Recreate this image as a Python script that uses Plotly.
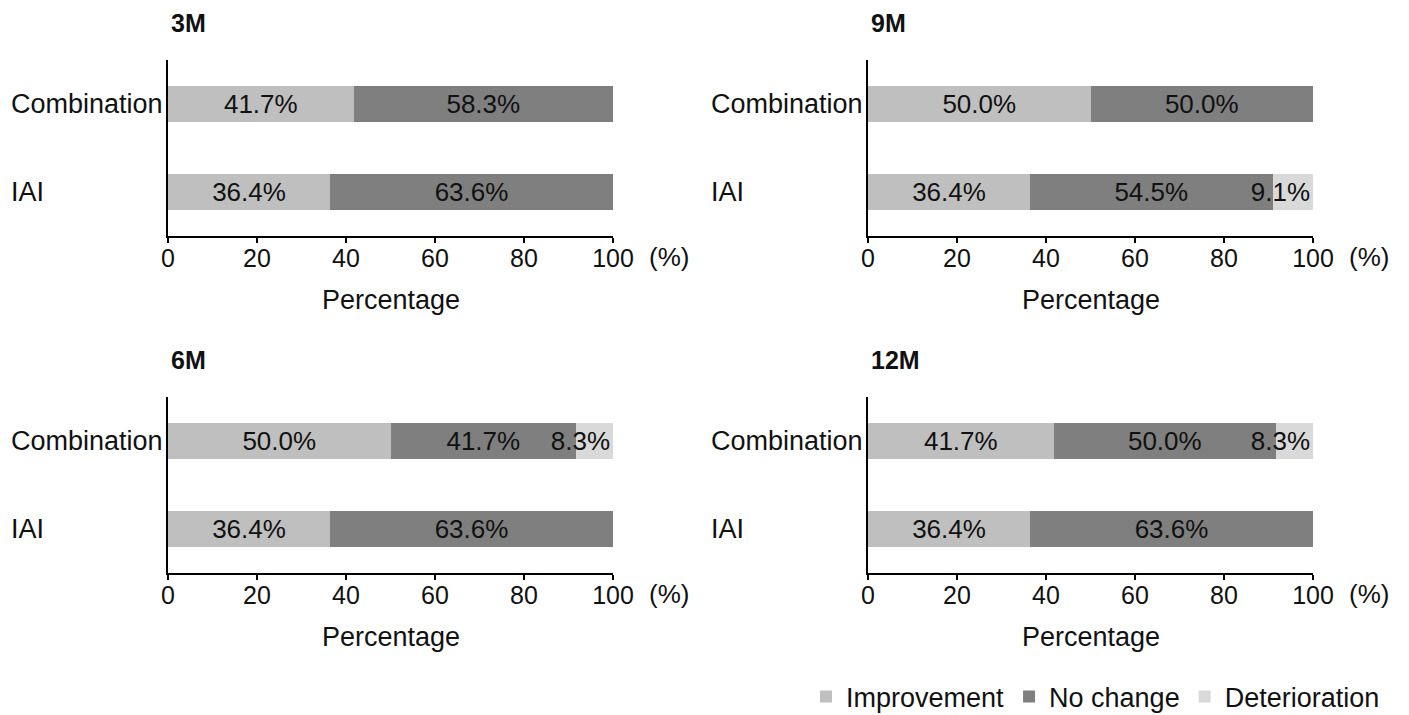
import plotly.graph_objects as go

# ---- data ----
groups = ["IAI", "Combination"]
panels = ["3M", "9M", "6M", "12M"]
improvement = {"3M": [36.4, 41.7], "9M": [36.4, 50.0], "6M": [36.4, 50.0], "12M": [36.4, 41.7]}
no_change = {"3M": [63.6, 58.3], "9M": [54.5, 50.0], "6M": [63.6, 41.7], "12M": [63.6, 50.0]}
deterioration = {"3M": [0.0, 0.0], "9M": [9.1, 0.0], "6M": [0.0, 8.3], "12M": [0.0, 8.3]}
series_names = ["Improvement", "No change", "Deterioration"]
colors = ["#bfbfbf", "#7f7f7f", "#d9d9d9"]
xticks = [0, 20, 40, 60, 80, 100]

W, H = 1409, 715
FONT = "Liberation Sans, Arial, sans-serif"
TXT = "#111111"

# panel geometry (pixels)
xdoms = {"L": (168, 613), "R": (868, 1313)}
ydoms = {"T": (236, 60), "B": (573, 397)}
layout_pos = {"3M": ("L", "T"), "9M": ("R", "T"), "6M": ("L", "B"), "12M": ("R", "B")}
anchors = ["middle", "middle", "end"]

fig = go.Figure()
annotations = []

for i, p in enumerate(panels):
    ax = "" if i == 0 else str(i + 1)
    xa, ya = "x" + ax, "y" + ax
    cx, cy = layout_pos[p]
    x0, x1 = xdoms[cx]
    yb, yt = ydoms[cy]
    for s, (name, col, vals) in enumerate(zip(series_names, colors,
                                            [improvement[p], no_change[p], deterioration[p]])):
        fig.add_trace(go.Bar(
            y=groups, x=vals, orientation="h", name=name,
            marker=dict(color=col, line=dict(width=0)),
            width=0.4,
            text=[f"{v:.1f}%" if v > 0 else "" for v in vals],
            textposition="inside", insidetextanchor=anchors[s],
            constraintext="none", textangle=0, cliponaxis=False,
            textfont=dict(family=FONT, size=26, color=TXT),
            xaxis=xa, yaxis=ya, showlegend=(i == 0), legendgroup=name,
            hoverinfo="skip",
        ))
    fig.layout["xaxis" + ax] = dict(
        domain=[x0 / W, x1 / W], anchor=ya, range=[0, 100],
        tickvals=xticks, ticktext=[str(t) for t in xticks],
        showline=True, linecolor="black", linewidth=2,
        ticks="outside", ticklen=5, tickwidth=1.5, tickcolor="black",
        ticklabelstandoff=-6,
        showgrid=False, zeroline=False, automargin=False, fixedrange=True,
        tickfont=dict(family=FONT, size=25, color=TXT),
    )
    fig.layout["yaxis" + ax] = dict(
        domain=[1 - yb / H, 1 - yt / H], anchor=xa, range=[-0.5, 1.5],
        type="category", categoryorder="array", categoryarray=groups,
        showline=True, linecolor="black", linewidth=2, automargin=False,
        showticklabels=False, ticks="", showgrid=False, zeroline=False,
        fixedrange=True,
    )
    # category labels (left aligned)
    for g in groups:
        annotations.append(dict(
            text=g, xref="paper", x=(x0 - 159) / W, xanchor="left",
            yref=ya, y=g, yanchor="middle", showarrow=False,
            font=dict(family=FONT, size=27, color=TXT),
        ))
    # panel title
    annotations.append(dict(
        text=f"<b>{p}</b>", xref="paper", x=(x0 + 1) / W, xanchor="left",
        yref="paper", y=1 - (yt - 37) / H, yanchor="middle", showarrow=False,
        font=dict(family=FONT, size=25, color=TXT),
    ))
    # axis title
    annotations.append(dict(
        text="Percentage", xref=xa + " domain", x=0.5, xanchor="center",
        yref="paper", y=1 - (yb + 64) / H, yanchor="middle", showarrow=False,
        font=dict(family=FONT, size=27, color=TXT),
    ))
    # unit
    annotations.append(dict(
        text="(%)", xref="paper", x=(x1 + 34) / W, xanchor="left",
        yref="paper", y=1 - (yb + 21) / H, yanchor="middle", showarrow=False,
        font=dict(family=FONT, size=26, color=TXT),
    ))

fig.update_layout(
    template="none",
    width=W, height=H, autosize=False, barmode="stack",
    margin=dict(l=0, r=0, t=0, b=0, pad=0, autoexpand=False),
    paper_bgcolor="white", plot_bgcolor="white",
    font=dict(family=FONT, size=25, color=TXT),
    annotations=annotations,
    legend=dict(orientation="h", xanchor="right", x=1385 / W,
                yanchor="middle", y=1 - 697 / H,
                font=dict(family=FONT, size=27, color=TXT),
                itemwidth=30, traceorder="normal", bgcolor="rgba(0,0,0,0)"),
)

fig.write_html(
    "out.html",
    config={"displayModeBar": False, "responsive": False},
    post_script="document.body.style.margin='0';document.body.style.overflow='hidden';",
)
